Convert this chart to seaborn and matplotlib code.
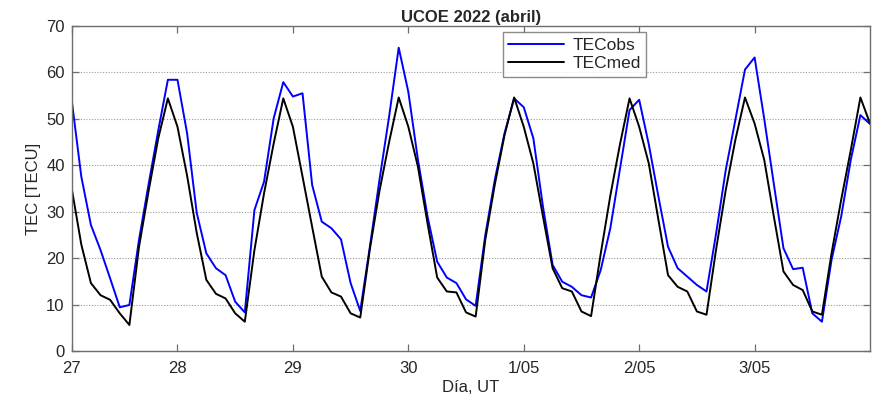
import numpy as np
import pandas as pd
import matplotlib
matplotlib.use("Agg")
import matplotlib.pyplot as plt
import seaborn as sns

sample_index = list(range(1, 85))

tec_obs = [54.1, 37.6, 27.2, 21.8, 15.7, 9.5, 10.0, 24.0, 36.0, 47.5, 58.4, 58.4,
           46.9, 29.8, 21.1, 17.9, 16.4, 10.7, 8.4, 30.4, 36.5, 50.1, 57.9, 54.8,
           55.5, 35.8, 27.9, 26.5, 24.1, 14.7, 8.7, 22.5, 36.9, 50.5, 65.3, 55.8,
           41.2, 29.0, 19.3, 15.9, 14.7, 11.2, 9.8, 25.0, 37.0, 46.9, 54.4, 52.5,
           45.8, 31.1, 18.6, 15.0, 13.9, 12.1, 11.6, 17.5, 26.5, 39.2, 51.9, 54.1,
           44.5, 33.3, 22.5, 17.9, 16.1, 14.3, 12.9, 25.4, 39.0, 49.8, 60.6, 63.2,
           50.0, 36.0, 22.2, 17.7, 18.0, 8.2, 6.4, 19.7, 29.0, 41.2, 50.8, 48.9]

tec_med = [35.1, 23.0, 14.7, 12.1, 11.1, 8.2, 5.7, 22.5, 34.5, 45.8, 54.4, 48.3,
           37.8, 25.5, 15.4, 12.4, 11.4, 8.2, 6.4, 21.8, 34.0, 44.7, 54.4, 48.3,
           37.6, 26.8, 16.1, 12.7, 11.8, 8.2, 7.3, 22.0, 34.5, 45.0, 54.6, 48.3,
           39.7, 27.5, 15.9, 12.9, 12.7, 8.4, 7.5, 24.0, 36.0, 46.5, 54.6, 48.3,
           40.4, 29.0, 17.9, 13.6, 12.9, 8.6, 7.6, 21.0, 33.5, 44.5, 54.4, 48.3,
           40.4, 28.3, 16.4, 13.9, 12.9, 8.6, 7.9, 22.0, 34.7, 45.5, 54.6, 49.0,
           41.2, 29.0, 17.2, 14.3, 13.2, 8.6, 7.9, 21.1, 32.6, 43.3, 54.6, 49.0]

tick_positions = [1, 12, 24, 36, 48, 60, 72]
tick_labels = ["27", "28", "29", "30", "1/05", "2/05", "3/05"]
series_names = ["TECobs", "TECmed"]
series_colors = ["#0000FF", "#000000"]

df = pd.DataFrame({
    "x": sample_index * 2,
    "TEC": tec_obs + tec_med,
    "serie": [series_names[0]] * len(tec_obs) + [series_names[1]] * len(tec_med),
})

sns.set_style("white")
plt.rcParams["font.family"] = ["Liberation Sans", "DejaVu Sans"]

fig = plt.figure(figsize=(8.73, 3.96), dpi=100)
ax = fig.add_axes([0.0821, 0.1124, 0.9145, 0.8224])

sns.lineplot(data=df, x="x", y="TEC", hue="serie", hue_order=series_names,
             palette=dict(zip(series_names, series_colors)), linewidth=1.4,
             ax=ax, legend=True)

ax.set_xlim(1, 84)
ax.set_ylim(0, 70)
ax.set_xticks(tick_positions)
ax.set_xticklabels(tick_labels)
ax.set_yticks(np.arange(0, 71, 10))
ax.yaxis.grid(True, linestyle=(0, (1, 1.5)), color="#9a9a9a", linewidth=0.8)
ax.xaxis.grid(False)
ax.set_axisbelow(True)

for s in ax.spines.values():
    s.set_visible(True)
    s.set_color("#6e6e6e")
    s.set_linewidth(1.0)

ax.tick_params(axis="both", direction="in", length=5, width=0.9, color="#6e6e6e",
               labelsize=12, labelcolor="#262626", top=True, right=True,
               bottom=True, left=True, pad=5)
ax.tick_params(axis="x", pad=7)

ax.set_xlabel("Día, UT", fontsize=12, color="#262626", labelpad=3)
ax.set_ylabel("TEC [TECU]", fontsize=12, color="#262626", labelpad=4)
ax.set_title("UCOE 2022 (abril)", fontsize=12, fontweight="bold", pad=3)

leg = ax.legend(loc="upper left", bbox_to_anchor=(0.540, 0.980), borderaxespad=0,
                fontsize=12.5, frameon=True, fancybox=False, handlelength=3.2,
                handletextpad=0.5, labelspacing=0.2, borderpad=0.3, title=None)
leg.get_frame().set_edgecolor("#6e6e6e")
leg.get_frame().set_linewidth(1.0)
for line in leg.get_lines():
    line.set_linewidth(1.4)

fig.savefig("out.png", dpi=100)
